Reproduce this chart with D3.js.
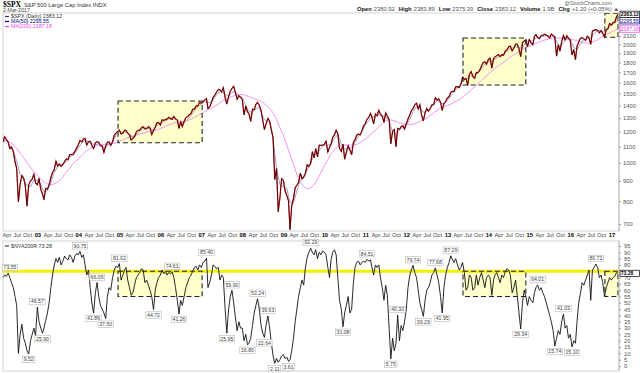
<!DOCTYPE html>
<html><head><meta charset="utf-8">
<script src="https://cdn.jsdelivr.net/npm/d3@7"></script>
<style>
body{margin:0;background:#fff;}
svg{display:block;font-family:"Liberation Sans",Arial,sans-serif;}
</style></head><body><div id="chart"></div>
<script>
// semi-monthly closes (1st and 16th of each month), Mar 2002 .. Mar 2017
const spx = [
 1131,1166,1147,1129,1086,1098,1067,1007,968,797,885,930,916,873,777,880,900,909,936,890,
 880,914,856,834,807,862,858,880,916,946,963,1010,982,994,980,990,1008,1025,1018,1050,1050,1050,1070,1089,
 1112,1140,1131,1150,1155,1110,1132,1135,1107,1088,1125,1133,1128,1106,1105,1063,1104,1128,1131,1108,1130,1175,1191,1203,
 1212,1185,1190,1210,1210,1190,1180,1143,1156,1165,1200,1210,1211,1229,1235,1220,1221,1237,1228,1180,1210,1231,1265,1267,
 1248,1287,1282,1290,1291,1306,1295,1290,1313,1292,1285,1224,1270,1237,1277,1302,1311,1325,1335,1369,1370,1396,1396,1427,
 1418,1431,1446,1456,1374,1387,1424,1468,1486,1512,1536,1533,1515,1553,1465,1411,1474,1520,1547,1565,1509,1451,1481,1467,
 1447,1325,1395,1349,1331,1276,1370,1365,1409,1425,1400,1360,1284,1215,1260,1298,1277,1213,1161,907,968,752,816,913,
 903,850,826,800,677,778,812,865,878,893,942,912,923,940,990,980,998,1068,1030,1087,1036,1110,1108,1110,
 1115,1136,1066,1095,1115,1160,1178,1210,1187,1088,1070,1116,1022,1065,1106,1080,1049,1125,1146,1176,1184,1178,1206,1242,
 1258,1293,1305,1336,1306,1256,1332,1319,1361,1330,1314,1268,1340,1316,1286,1119,1204,1216,1099,1224,1218,1236,1244,1219,
 1258,1293,1324,1358,1374,1404,1419,1370,1405,1325,1278,1342,1374,1354,1375,1405,1406,1465,1444,1454,1427,1359,1416,1430,
 1462,1472,1513,1520,1518,1560,1562,1552,1582,1650,1631,1640,1573,1680,1706,1655,1640,1697,1695,1721,1762,1798,1806,1781,
 1831,1845,1741,1838,1859,1872,1885,1862,1884,1877,1924,1937,1973,1981,1925,1955,2003,2001,1946,1862,2018,2041,2053,1972,
 2058,2019,1995,2097,2117,2081,2067,2106,2108,2122,2111,2096,2077,2124,2104,2092,1867,1995,1923,2033,2104,2053,2102,2073,
 2044,1880,1940,1829,1978,2027,2072,2080,2065,2047,2099,2077,2000,2161,2173,2180,2170,2139,2168,2133,2085,2180,2191,2258,
 2239,2271,2279,2350,2383
]
// monthly moving averages, Mar 2002 .. Mar 2017
const ma50 = [
 1130,1140,1110,1075,1010,935,910,875,870,905,
 905,880,845,850,890,945,980,990,1000,1020,1045,1060,
 1090,1125,1140,1135,1120,1110,1120,1100,1095,1115,1130,1175,
 1200,1195,1200,1180,1165,1180,1205,1225,1228,1220,1210,1245,
 1260,1275,1285,1300,1305,1285,1265,1265,1290,1320,1360,1390,
 1412,1430,1425,1425,1470,1505,1515,1495,1480,1510,1515,1480,
 1470,1395,1350,1345,1370,1385,1310,1275,1270,1150,970,880,
 870,860,795,790,850,905,915,960,1000,1045,1060,1090,
 1110,1110,1115,1155,1180,1120,1085,1085,1095,1125,1170,1200,
 1250,1280,1310,1310,1325,1320,1310,1280,1200,1180,1210,1235,
 1250,1290,1350,1390,1385,1345,1350,1375,1410,1440,1420,1410,
 1440,1480,1515,1550,1590,1625,1635,1665,1675,1690,1730,1780,
 1810,1815,1835,1860,1870,1900,1940,1955,1975,1960,1960,2030,
 2045,2040,2075,2085,2095,2105,2100,2100,2030,1970,2025,2070,
 2065,1965,1940,2000,2060,2065,2075,2130,2170,2160,2145,2190,
 2240,2265,2296
]
const ma200 = [
 1145,1140,1130,1115,1090,1060,1030,1000,975,950,
 930,910,895,885,880,885,895,910,935,960,985,1005,
 1025,1045,1065,1080,1092,1102,1110,1113,1115,1116,1118,1125,
 1135,1145,1155,1163,1170,1176,1183,1190,1198,1203,1208,1213,
 1222,1232,1243,1254,1265,1270,1272,1276,1282,1292,1305,1320,
 1334,1350,1365,1378,1393,1412,1432,1448,1460,1475,1484,1490,
 1492,1485,1474,1462,1450,1440,1425,1400,1375,1340,1290,1230,
 1175,1110,1050,990,935,895,870,860,865,880,910,945,
 985,1020,1055,1080,1100,1110,1112,1110,1110,1112,1120,1135,
 1150,1170,1190,1210,1235,1260,1280,1288,1283,1275,1265,1258,
 1253,1250,1253,1262,1275,1290,1300,1320,1340,1360,1380,1392,
 1400,1410,1425,1440,1458,1480,1505,1535,1562,1590,1620,1650,
 1680,1710,1740,1765,1790,1815,1845,1870,1895,1918,1940,1962,
 1980,1998,2015,2030,2045,2057,2066,2075,2078,2075,2070,2062,
 2058,2053,2043,2030,2020,2012,2020,2035,2055,2082,2110,2130,
 2150,2170,2187
]
// NYSE % of stocks above 200-day MA, semi-monthly like spx
const nya = [
 70,72,71,73.55,70,66,62,55,48,10,25,33,22,18,12,9.52,20,25,30,24,
 46.57,35,30,25.9,30,36,42,50,62,72,80,85,82,86,80,83,87,85,84,88,86,82,87,89,
 88,90.75,86,88,80,72,76,62,50,41.86,58,66.05,55,48,45,42,37.5,55,62,60,70,76,79,78,
 81.02,68,72,76,78,68,62,56,58,64,70,72,74,77,76,66,68,64,60,55,44.72,60,66,70,
 72,76,73,75,72,74,73,74.61,70,62,52,41.26,52,48,55,62,66,70,72,75,78,79,76,80,
 78,82,83,85.4,62,66,72,80,79,77,78,68,72,70,45,25.95,45,55,59.9,50,38,28,35,30,
 30,20,25,16.8,18,22,32,42,48,53.24,45,32,26,22.64,33,39.63,30,18,8,2.11,6,3,5,8,
 9,6,7,3.61,5,12,22,35,45,55,62,68,64,78,86,90,93.29,90,88,92,85,90,88,91,
 90,88,78,70,84,90,92,88,70,52,45,31.08,42,48,55,42,45,65,78,82,83,80,82,83,
 82,84.51,83,84,78,72,80,78,80,70,62,52,64,56,30,5.75,22,12,18,40.3,20,32,28,35,
 45,62,72,76,79.74,74,70,60,50,45,39.29,52,60,62,66,72,74,77.68,72,66,55,41.95,62,72,
 78,82,87.29,84,82,85,80,76,78,82,74,60,62,72,70,60,62,72,64,70,74,68,62,70,
 72,70,56,68,72,74,70,66,72,70,75,77,76,72,58,62,68,55,42,29.34,50,60,55,48,
 55,52,50,58,62,64.01,60,62,58,55,50,45,40,35,28,15.74,22,28,25,35,41.03,30,32,22,
 25,15.1,20,18,35,50,58,66,64,68,72,76,52,76,78,80.72,78,70,72,66,55,62,66,70,
 68,70,71,74,73.28
]
// peak / trough labels on the lower panel: date, value, 1 above / -1 below
const annoDates = ["2002-04-16","2002-10-16","2003-01-01","2003-02-16","2004-01-16","2004-05-16","2004-06-16","2004-09-01",
 "2005-01-01","2005-11-01","2006-04-16","2006-06-16","2007-02-16","2007-08-16","2007-10-01","2008-02-16","2008-05-16",
 "2008-07-16","2008-08-16","2008-10-16","2009-02-16","2009-09-01","2010-06-16","2011-01-16","2011-08-16","2011-10-16",
 "2012-03-01","2012-06-01","2012-09-16","2012-11-16","2013-02-01","2014-10-16","2015-03-16","2015-08-16","2015-11-01",
 "2016-01-16","2016-08-16"]
const annoValues = [73.55,9.52,46.57,25.90,90.75,41.86,66.05,37.50,81.02,44.72,74.61,41.26,85.40,25.95,59.90,16.80,53.24,
 22.64,39.63,2.11,3.61,93.29,31.08,84.51,5.75,40.30,79.74,39.29,77.68,41.95,87.29,29.34,64.01,15.74,41.03,15.10,80.72]
const annoSide = [1,-1,1,-1,1,-1,1,-1,1,-1,1,-1,1,-1,1,-1,1,-1,1,-1,-1,1,-1,1,-1,1,1,-1,1,-1,1,-1,1,-1,1,-1,1]

// highlight boxes: start, end, low/high price, low/high breadth
const boxStart = ["2004-12-20","2013-05-20","2016-11-04"]
const boxEnd = ["2007-01-08","2014-12-01","2017-03-01"]
const boxPriceLow = [1125,1577,2085]
const boxPriceHigh = [1436,2075,2400]
const boxBreadthLow = [55,55,55]
const boxBreadthHigh = [75,75,75]

const priceTicks = [700,800,900,1000,1100,1200,1300,1400,1500,1600,1700,1800,1900,2000,2100]
// 75 sits under the last-value tag
const breadthTicks = [0,5,10,15,20,25,30,35,40,45,50,55,60,65,70,80,85,90,95]
const monthNames = ["","","","Apr","","","Jul","","","Oct","",""]

const W = 640, H = 373
const svg = d3.select("#chart").append("svg")
    .attr("width", W).attr("height", H).attr("viewBox", [0, 0, W, H])

const halfMonth = i => new Date(2002, 2 + (i >> 1), i % 2 ? 16 : 1)
const month = i => new Date(2002, 2 + i, 1)
const parse = d3.timeParse("%Y-%m-%d")

const x = d3.scaleTime().domain([new Date(2002, 2, 1), new Date(2017, 2, 1)]).range([3, 618])
const yTop = d3.scaleLog().domain([700, 2100]).range([224, 36])
const yBot = d3.scaleLinear().domain([0, 95]).range([366, 246])

const pTop = {y0: 13, y1: 231}, pBot = {y0: 241, y1: 371}
const left = 3, right = 619

// clip paths
const defs = svg.append("defs")
defs.append("clipPath").attr("id", "clipTop").append("rect")
    .attr("x", left).attr("y", pTop.y0).attr("width", right - left).attr("height", pTop.y1 - pTop.y0)
defs.append("clipPath").attr("id", "clipBot").append("rect")
    .attr("x", left).attr("y", pBot.y0).attr("width", right - left).attr("height", pBot.y1 - pBot.y0)

//panel frames
svg.append("rect").attr("x", left).attr("y", pTop.y0).attr("width", right - left).attr("height", pTop.y1 - pTop.y0)
    .attr("fill", "none").attr("stroke", "#c8c8c8").attr("stroke-width", 0.8)
svg.append("rect").attr("x", left).attr("y", pBot.y0).attr("width", right - left).attr("height", pBot.y1 - pBot.y0)
    .attr("fill", "none").attr("stroke", "#c8c8c8").attr("stroke-width", 0.8)

const gTop = svg.append("g").attr("clip-path", "url(#clipTop)")
const gBot = svg.append("g").attr("clip-path", "url(#clipBot)")

const boxRect = (g, i, y, lo, hi) => g.append("rect")
    .attr("x", x(parse(boxStart[i]))).attr("width", x(parse(boxEnd[i])) - x(parse(boxStart[i])))
    .attr("y", y(hi[i])).attr("height", y(lo[i]) - y(hi[i]))

//1. upper boxes fill
boxStart.forEach((s, i) => boxRect(gTop, i, yTop, boxPriceLow, boxPriceHigh).attr("fill", "#ffffcc"))

//2. lines
const lineMonthly = d3.line().x((d, i) => x(month(i))).y(d => yTop(d))
const lineHalf = d3.line().x((d, i) => x(halfMonth(i))).y(d => yTop(d))
gTop.append("path").datum(ma200).attr("d", lineMonthly)
    .attr("fill", "none").attr("stroke", "#ee88ee").attr("stroke-width", 0.9)
gTop.append("path").datum(ma50).attr("d", lineMonthly)
    .attr("fill", "none").attr("stroke", "#7777bb").attr("stroke-width", 0.7)
gTop.append("path").datum(spx).attr("d", lineHalf)
    .attr("fill", "none").attr("stroke", "#d40000").attr("stroke-width", 1.2)
gTop.append("path").datum(spx).attr("d", lineHalf)
    .attr("fill", "none").attr("stroke", "#111").attr("stroke-width", 0.6)

//3. upper box borders
boxStart.forEach((s, i) => boxRect(gTop, i, yTop, boxPriceLow, boxPriceHigh)
    .attr("fill", "none").attr("stroke", "#222").attr("stroke-width", 1.1).attr("stroke-dasharray", "5,3"))

//4. lower panel
boxStart.forEach((s, i) => boxRect(gBot, i, yBot, boxBreadthLow, boxBreadthHigh).attr("fill", "#ffffcc"))
gBot.append("line").attr("x1", left).attr("x2", right)
    .attr("y1", yBot(75)).attr("y2", yBot(75))
    .attr("stroke", "#f2f200").attr("stroke-width", 3)
gBot.append("path").datum(nya)
    .attr("d", d3.line().x((d, i) => x(halfMonth(i))).y(d => yBot(d)))
    .attr("fill", "none").attr("stroke", "#111").attr("stroke-width", 0.9)
boxStart.forEach((s, i) => boxRect(gBot, i, yBot, boxBreadthLow, boxBreadthHigh)
    .attr("fill", "none").attr("stroke", "#222").attr("stroke-width", 1.1).attr("stroke-dasharray", "5,3"))

//peak/trough labels
annoDates.forEach((d, i) => {
    const cx = Math.max(x(parse(d)), 10)
    const cy = yBot(annoValues[i]) - annoSide[i] * 5.5
    const g = svg.append("g")
    const t = g.append("text").attr("x", cx).attr("y", cy).attr("dy", "0.35em")
        .attr("text-anchor", "middle").attr("font-size", 5.2).attr("fill", "#444")
        .text(annoValues[i].toFixed(2))
    const w = t.node().getComputedTextLength()
    g.insert("rect", "text").attr("x", cx - w / 2 - 1.2).attr("y", cy - 3.2)
        .attr("width", w + 2.4).attr("height", 6.4)
        .attr("fill", "#fff").attr("stroke", "#aaa").attr("stroke-width", 0.5)
})

//5. axes
const axisStyle = g => {
    g.select(".domain").remove()
    g.selectAll(".tick line").attr("stroke", "#999")
    g.selectAll(".tick text").attr("fill", "#555").attr("font-size", 5.8)
        .attr("font-family", "Liberation Sans, Arial, sans-serif")
}
svg.append("g").attr("transform", `translate(${right},0)`)
    .call(d3.axisRight(yTop).tickValues(priceTicks).tickFormat(d3.format("d")).tickSize(2).tickPadding(2))
    .call(axisStyle)
svg.append("g").attr("transform", `translate(${right},0)`)
    .call(d3.axisRight(yBot).tickValues(breadthTicks).tickSize(2).tickPadding(3))
    .call(axisStyle)
svg.append("line").attr("x1", right).attr("x2", right).attr("y1", pTop.y0).attr("y2", pTop.y1).attr("stroke", "#bbb")
svg.append("line").attr("x1", right).attr("x2", right).attr("y1", pBot.y0).attr("y2", pBot.y1).attr("stroke", "#bbb")

const xTicks = d3.timeMonth.every(3).range(new Date(2002, 3, 1), new Date(2017, 1, 1))
const xAxis = svg.append("g").attr("transform", `translate(0,${pTop.y1})`)
    .call(d3.axisBottom(x).tickValues(xTicks).tickSize(0).tickPadding(2)
        .tickFormat(d => d.getMonth() === 0 ? d3.timeFormat("%y")(d) : monthNames[d.getMonth()]))
    .call(axisStyle)
xAxis.selectAll(".tick text").attr("fill", "#444")
    .filter(d => d.getMonth() === 0).attr("font-weight", "bold").attr("fill", "#000")

//6. header
const head = svg.append("text").attr("x", 3).attr("y", 6.5)
head.append("tspan").attr("font-weight", "bold").attr("font-size", 7.5)
    .attr("font-family", "Liberation Serif, serif").text("$SPX")
head.append("tspan").attr("font-size", 5.8).attr("fill", "#333").attr("dx", 3).text("S&P 500 Large Cap Index INDX")
svg.append("text").attr("x", 3).attr("y", 12.3).attr("font-size", 5.2).attr("fill", "#444").text("2-Mar-2017")
svg.append("text").attr("x", 612).attr("y", 5).attr("text-anchor", "end")
    .attr("font-size", 5.5).attr("fill", "#666").text("@StockCharts.com")

const quote = [["Open", "2380.92"], ["High", "2383.89"], ["Low", "2375.39"], ["Close", "2383.12"],
    ["Volume", "1.9B"], ["Chg", "+1.20 (+0.05%) \u25B2"]]
const qt = svg.append("text").attr("x", 619).attr("y", 11).attr("text-anchor", "end").attr("font-size", 5.8)
quote.forEach(([k, v], i) => {
    qt.append("tspan").attr("font-weight", "bold").attr("fill", "#111").attr("dx", i ? 4 : 0).text(k)
    qt.append("tspan").attr("fill", "#555").attr("dx", 2).text(v)
})

//legends
const legend = (y, color, label) => {
    svg.append("line").attr("x1", 5).attr("x2", 9).attr("y1", y).attr("y2", y)
        .attr("stroke", color).attr("stroke-width", 1.2)
    svg.append("text").attr("x", 11).attr("y", y).attr("dy", "0.35em")
        .attr("font-size", 5.3).attr("fill", color).text(label)
}
legend(16.5, "#333", "$SPX (Daily) 2383.12")
legend(21.5, "#000080", "MA(50) 2295.55")
legend(26.5, "#ee44ee", "MA(200) 2187.18")
legend(246, "#333", "$NYA200R 73.28")

//value tags on the right axis
const tag = (y, color, label, bold) => {
    svg.append("rect").attr("x", 620).attr("y", y - 3.2).attr("width", 19.5).attr("height", 6.4)
        .attr("fill", "#fff").attr("stroke", color).attr("stroke-width", 0.7)
    svg.append("text").attr("x", 620.8).attr("y", y).attr("dy", "0.35em").attr("font-size", 5)
        .attr("font-weight", bold ? "bold" : "normal").attr("fill", color).text(label)
}
tag(yTop(2187.18), "#dd44dd", "2187.18")
tag(yTop(2295.55), "#000080", "2295.55")
tag(yTop(2383.12), "#000", "2383.12", true)
tag(yBot(73.28), "#000", "73.28", true)
</script></body></html>
